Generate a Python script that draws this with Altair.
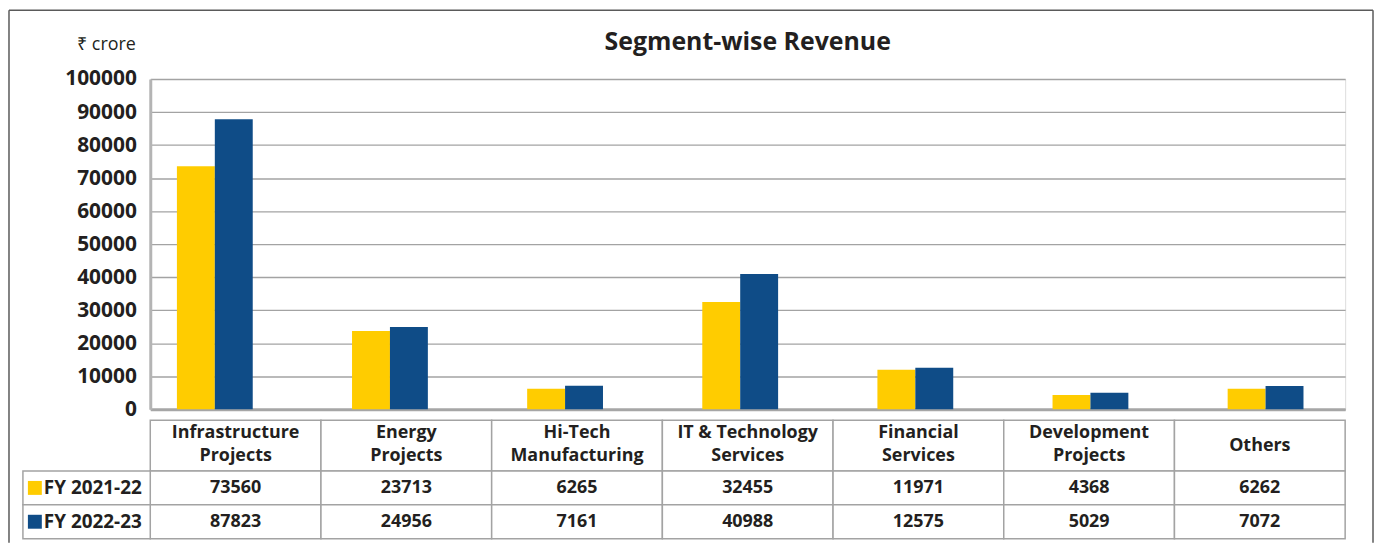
import altair as alt
import pandas as pd

# ---- data ----
segments = ["Infrastructure Projects", "Energy Projects", "Hi-Tech Manufacturing",
            "IT & Technology Services", "Financial Services", "Development Projects", "Others"]
header_labels = ["Infrastructure\nProjects", "Energy\nProjects", "Hi-Tech\nManufacturing",
                 "IT & Technology\nServices", "Financial\nServices", "Development\nProjects", "Others"]
years = ["FY 2021-22", "FY 2022-23"]
fy2122 = [73560, 23713, 6265, 32455, 11971, 4368, 6262]
fy2223 = [87823, 24956, 7161, 40988, 12575, 5029, 7072]
y_ticks = [0, 10000, 20000, 30000, 40000, 50000, 60000, 70000, 80000, 90000, 100000]
chart_title = "Segment-wise Revenue"
unit_label = "₹ crore"

colors = ["#FFCC00", "#0F4C87"]
FONT = "Open Sans"
TXT = "#231f20"
GRID = "#a3a3a3"

rows = []
for seg, a, b in zip(segments, fy2122, fy2223):
    rows.append({"segment": seg, "year": years[0], "value": a})
    rows.append({"segment": seg, "year": years[1], "value": b})
df = pd.DataFrame(rows)
hdr = pd.DataFrame({"segment": segments, "label": header_labels})
hdr["two"] = hdr["label"].str.contains("\n")
yrs = pd.DataFrame({"year": years})
one = pd.DataFrame({"k": [0]})

W, H = 1201, 332
color = alt.Color("year:N", sort=years, scale=alt.Scale(domain=years, range=colors), legend=None)
x_tab = alt.X("segment:N", sort=segments,
              scale=alt.Scale(domain=segments, paddingInner=0, paddingOuter=0), axis=None)
y_tab = alt.Y("year:N", sort=years,
              scale=alt.Scale(domain=years, range=[394, 462], paddingInner=0, paddingOuter=0),
              axis=None)

# outer frame
frame_top = alt.Chart(one).mark_rule(color="#5a5a5a", strokeWidth=1.5).encode(
    x=alt.value(-142), x2=alt.value(1229), y=alt.value(-69))
frame_left = alt.Chart(one).mark_rule(color="#5a5a5a", strokeWidth=1.5).encode(
    x=alt.value(-142), y=alt.value(-69), y2=alt.value(466))
frame_right = alt.Chart(one).mark_rule(color="#5a5a5a", strokeWidth=1.5).encode(
    x=alt.value(1229), y=alt.value(-69), y2=alt.value(466))

bars = alt.Chart(df).mark_bar().encode(
    x=alt.X("segment:N", sort=segments,
            scale=alt.Scale(domain=segments, paddingInner=0.567, paddingOuter=0.195, align=0.39),
            axis=alt.Axis(labels=False, ticks=False, title=None, grid=False,
                          domainColor="#a6a6a6", domainWidth=3)),
    xOffset=alt.XOffset("year:N", sort=years),
    y=alt.Y("value:Q", scale=alt.Scale(domain=[0, 100000], nice=False),
            axis=alt.Axis(values=y_ticks, format="d", labelFontSize=21, labelFont=FONT,
                          labelFontWeight="bold", labelColor=TXT, labelPadding=14,
                          ticks=False, grid=True, gridColor=GRID, gridWidth=1.3,
                          domainColor="#b4b4b4", domainWidth=3,
                          title=unit_label, titleAngle=0, titleAlign="right",
                          titleBaseline="middle", titleX=-15, titleY=-35,
                          titleFont=FONT, titleFontSize=18, titleFontWeight="normal",
                          titleColor=TXT)),
    color=color,
)

title_txt = alt.Chart(one).mark_text(font=FONT, fontSize=25, fontWeight="bold", color=TXT,
                                     align="center", baseline="middle").encode(
    x=alt.value(W / 2), y=alt.value(-37), text=alt.value(chart_title))

hdr_cells = alt.Chart(hdr).mark_rect(fill="white", stroke=GRID, strokeWidth=1.5).encode(
    x=x_tab, y=alt.value(343), y2=alt.value(394))
hdr_text2 = alt.Chart(hdr).transform_filter("datum.two").mark_text(
    font=FONT, fontSize=18, fontWeight="bold", color=TXT, lineBreak="\n", lineHeight=23,
    align="center", baseline="middle").encode(
    x=x_tab, y=alt.value(356), text="label:N")
hdr_text1 = alt.Chart(hdr).transform_filter("!datum.two").mark_text(
    font=FONT, fontSize=18, fontWeight="bold", color=TXT,
    align="center", baseline="middle").encode(
    x=x_tab, y=alt.value(369), text="label:N")

data_cells = alt.Chart(df).mark_rect(fill="white", stroke=GRID, strokeWidth=1.5).encode(
    x=x_tab, y=y_tab)
data_text = alt.Chart(df).mark_text(font=FONT, fontSize=18, fontWeight="bold", color=TXT,
                                    align="center", baseline="middle").encode(
    x=x_tab, y=y_tab, text=alt.Text("value:Q", format="d"))

rh_cells = alt.Chart(yrs).mark_rect(fill="white", stroke=GRID, strokeWidth=1.5).encode(
    x=alt.value(-128), x2=alt.value(0), y=y_tab)
rh_sq = alt.Chart(yrs).mark_point(shape="square", filled=True, size=196, opacity=1).encode(
    x=alt.value(-116), y=y_tab, color=color)
rh_text = alt.Chart(yrs).mark_text(font=FONT, fontSize=19, fontWeight="bold", color=TXT,
                                   align="left", baseline="middle").encode(
    x=alt.value(-107), y=y_tab, text="year:N")

chart = alt.layer(
    frame_top, frame_left, frame_right, bars, title_txt,
    hdr_cells, hdr_text2, hdr_text1, data_cells, data_text, rh_cells, rh_sq, rh_text
).resolve_scale(x="independent", y="independent").properties(
    width=W, height=H, padding=0
).configure_view(stroke=None).configure(background="white")

chart.save("out.html", embed_options={"renderer": "svg", "actions": False})
